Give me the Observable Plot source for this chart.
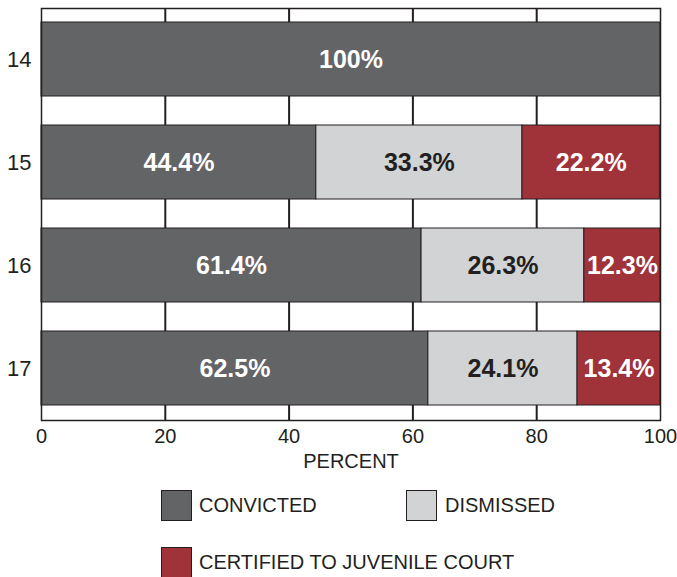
<!DOCTYPE html>
<html>
<head>
<meta charset="utf-8">
<script src="https://cdn.jsdelivr.net/npm/d3@7"></script>
<script src="https://cdn.jsdelivr.net/npm/@observablehq/plot@0.6"></script>
<style>
  body { margin: 0; background: white; font-family: "Liberation Sans", Arial, sans-serif; color: #231f20; }
  #legend { position: relative; width: 677px; height: 97px; }
  .sw { position: absolute; width: 31px; height: 31px; box-sizing: border-box; border: 1.5px solid #231f20; }
  .lb { position: absolute; font-size: 20px; line-height: 31px; white-space: nowrap; }
</style>
</head>
<body>
<div id="chart"></div>
<div id="legend"></div>
<script>
const ages = ["14", "15", "16", "17"];
const categories = ["CONVICTED", "DISMISSED", "CERTIFIED TO JUVENILE COURT"];
const colors = ["#636466", "#d1d3d4", "#a0323a"];
const convicted = [100, 44.4, 61.4, 62.5];
const dismissed = [0, 33.3, 26.3, 24.1];
const certified = [0, 22.2, 12.3, 13.4];
const xTicks = [0, 20, 40, 60, 80, 100];
const gridTicks = [20, 40, 60, 80];

const series = [convicted, dismissed, certified];
const rows = [];
ages.forEach((age, i) => {
  categories.forEach((cat, j) => {
    rows.push({age, category: cat, value: series[j][i]});
  });
});
const shown = rows.filter(d => d.value > 0);
const fmt = v => (v === 100 ? "100%" : v.toFixed(1) + "%");
const stackOpts = {x: "value", y: "age", z: "category", order: null};
const lightText = d => (d.category !== "DISMISSED" ? fmt(d.value) : "");
const darkText = d => (d.category === "DISMISSED" ? fmt(d.value) : "");

const chart = Plot.plot({
  width: 677,
  height: 480,
  marginTop: 8,
  marginBottom: 60,
  marginLeft: 41,
  marginRight: 17,
  style: {fontFamily: "Liberation Sans, Arial, sans-serif", fontSize: "20px", color: "#231f20", background: "white"},
  x: {domain: [0, 100]},
  y: {domain: ages, paddingInner: 0.28, paddingOuter: 0.14, align: 0.5},
  color: {domain: categories, range: colors},
  marks: [
    Plot.ruleX(gridTicks, {stroke: "#231f20", strokeWidth: 2}),
    Plot.barX(shown, Plot.stackX({...stackOpts, fill: "category", stroke: "#231f20", strokeWidth: 1})),
    Plot.text(shown, Plot.stackX({...stackOpts, text: lightText, fill: "white", fontSize: 25, fontWeight: "bold"})),
    Plot.text(shown, Plot.stackX({...stackOpts, text: darkText, fill: "#231f20", fontSize: 25, fontWeight: "bold"})),
    Plot.frame({stroke: "#231f20", strokeWidth: 1.5}),
    Plot.axisX({ticks: xTicks, tickSize: 0, tickPadding: 8, label: null, fontSize: 20}),
    Plot.axisY({tickSize: 0, tickPadding: 10, label: null, fontSize: 22}),
    Plot.text(["PERCENT"], {frameAnchor: "bottom", dy: 47, fontSize: 20, fill: "#231f20"})
  ]
});
document.getElementById("chart").appendChild(chart);

const legend = document.getElementById("legend");
const legendPos = [[161, 10, 199], [406, 10, 445], [161, 67, 199]];
categories.forEach((cat, j) => {
  const [bx, by, tx] = legendPos[j];
  const sw = document.createElement("div");
  sw.className = "sw";
  sw.style.left = bx + "px";
  sw.style.top = by + "px";
  sw.style.background = colors[j];
  legend.appendChild(sw);
  const lb = document.createElement("div");
  lb.className = "lb";
  lb.style.left = tx + "px";
  lb.style.top = by + "px";
  lb.textContent = cat;
  legend.appendChild(lb);
});
</script>
</body>
</html>
